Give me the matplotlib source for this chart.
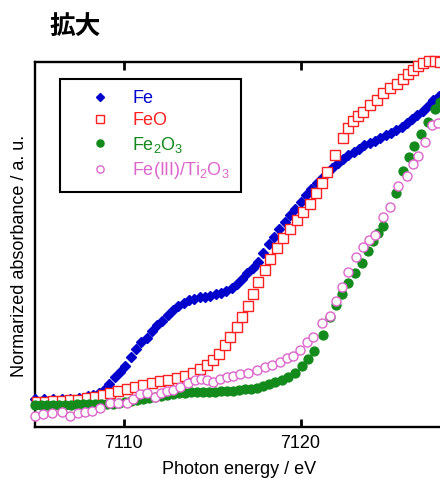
import matplotlib
matplotlib.use("Agg")
import matplotlib.pyplot as plt

plt.rcParams['font.family'] = ['Liberation Sans', 'DejaVu Sans']
plt.rcParams['mathtext.default'] = 'regular'

# Fe foil
fe_e = [7105.0, 7105.5, 7106.0, 7106.5, 7107.0, 7107.5, 7108.0, 7108.3, 7108.6, 7108.9,
        7109.2, 7109.5, 7109.8, 7110.1, 7110.4, 7110.7, 7111.0, 7111.3, 7111.6, 7111.9,
        7112.2, 7112.5, 7112.8, 7113.1, 7113.4, 7113.7, 7114.0, 7114.3, 7114.6, 7114.9,
        7115.2, 7115.5, 7115.8, 7116.1, 7116.4, 7116.7, 7117.0, 7117.3, 7117.6, 7117.9,
        7118.2, 7118.5, 7118.8, 7119.1, 7119.4, 7119.7, 7120.0, 7120.3, 7120.6, 7120.9,
        7121.2, 7121.5, 7121.8, 7122.1, 7122.4, 7122.7, 7123.0, 7123.3, 7123.6, 7123.9,
        7124.2, 7124.5, 7124.8, 7125.1, 7125.4, 7125.7, 7126.0, 7126.3, 7126.6, 7126.9,
        7127.2, 7127.5, 7127.8]
fe_v = [0.093, 0.093, 0.093, 0.093, 0.095, 0.098, 0.103, 0.107, 0.113, 0.125,
        0.143, 0.167, 0.183, 0.205, 0.232, 0.260, 0.283, 0.298, 0.320, 0.340,
        0.355, 0.373, 0.390, 0.403, 0.413, 0.422, 0.427, 0.433, 0.433, 0.437,
        0.442, 0.447, 0.453, 0.463, 0.477, 0.493, 0.513, 0.530, 0.550, 0.580,
        0.610, 0.633, 0.660, 0.683, 0.707, 0.727, 0.750, 0.773, 0.793, 0.812,
        0.830, 0.847, 0.865, 0.880, 0.895, 0.908, 0.918, 0.928, 0.940, 0.948,
        0.953, 0.963, 0.972, 0.980, 0.990, 1.000, 1.013, 1.027, 1.040, 1.053,
        1.070, 1.090, 1.103]

# FeO
feo_e = [7105.11, 7105.56, 7106.02, 7106.53, 7106.98, 7107.43, 7107.94, 7108.39, 7108.84, 7109.24,
         7109.69, 7110.20, 7110.65, 7111.10, 7111.61, 7112.06, 7112.51, 7113.02, 7113.47, 7113.93,
         7114.32, 7114.72, 7115.06, 7115.40, 7115.73, 7116.02, 7116.41, 7116.69, 7117.03, 7117.32,
         7117.60, 7117.99, 7118.28, 7118.67, 7119.01, 7119.41, 7119.80, 7120.14, 7120.54, 7120.88,
         7121.21, 7121.50, 7121.95, 7122.40, 7122.68, 7122.97, 7123.25, 7123.53, 7123.93, 7124.32,
         7124.66, 7125.06, 7125.45, 7125.79, 7126.07, 7126.36, 7126.64, 7126.92, 7127.26, 7127.60,
         7127.88]
feo_v = [0.083, 0.083, 0.087, 0.087, 0.090, 0.090, 0.097, 0.100, 0.107, 0.113,
         0.120, 0.127, 0.133, 0.140, 0.147, 0.153, 0.157, 0.163, 0.170, 0.180,
         0.193, 0.207, 0.223, 0.243, 0.273, 0.300, 0.333, 0.367, 0.403, 0.443,
         0.483, 0.523, 0.560, 0.597, 0.630, 0.660, 0.690, 0.717, 0.743, 0.780,
         0.813, 0.850, 0.907, 0.963, 0.997, 1.020, 1.037, 1.050, 1.073, 1.090,
         1.113, 1.130, 1.143, 1.160, 1.177, 1.190, 1.203, 1.213, 1.220, 1.220,
         1.217]

# Fe2O3
fe2o3_e = [7105.00, 7105.34, 7105.68, 7106.02, 7106.36, 7106.69, 7107.03, 7107.37, 7107.71, 7108.05,
           7108.39, 7108.73, 7109.07, 7109.41, 7109.75, 7110.08, 7110.42, 7110.76, 7111.10, 7111.44,
           7111.78, 7112.12, 7112.46, 7112.80, 7113.14, 7113.47, 7113.81, 7114.15, 7114.49, 7114.83,
           7115.17, 7115.51, 7115.85, 7116.19, 7116.53, 7116.86, 7117.20, 7117.54, 7117.88, 7118.22,
           7118.56, 7118.95, 7119.29, 7119.69, 7120.08, 7120.42, 7120.76, 7121.27, 7121.67, 7122.01,
           7122.34, 7122.68, 7123.08, 7123.47, 7123.81, 7124.10, 7124.38, 7124.66, 7125.40, 7125.79,
           7126.13, 7126.41, 7126.81, 7127.20, 7127.60, 7127.88]
fe2o3_v = [0.073, 0.073, 0.073, 0.073, 0.073, 0.073, 0.073, 0.077, 0.077, 0.077,
           0.077, 0.077, 0.077, 0.077, 0.080, 0.083, 0.087, 0.090, 0.093, 0.097,
           0.100, 0.103, 0.107, 0.110, 0.113, 0.113, 0.117, 0.117, 0.117, 0.117,
           0.117, 0.120, 0.120, 0.120, 0.123, 0.127, 0.127, 0.130, 0.137, 0.143,
           0.150, 0.157, 0.167, 0.180, 0.203, 0.227, 0.253, 0.307, 0.367, 0.407,
           0.443, 0.480, 0.513, 0.547, 0.587, 0.620, 0.647, 0.670, 0.780, 0.853,
           0.900, 0.937, 0.977, 1.017, 1.060, 1.083]

# Fe(III)/Ti2O3
ti_e = [7105.00, 7105.45, 7105.96, 7106.53, 7106.98, 7107.43, 7107.82, 7108.22, 7108.67, 7109.24,
        7109.69, 7110.20, 7110.54, 7110.93, 7111.33, 7111.78, 7112.12, 7112.46, 7112.80, 7113.19,
        7113.64, 7114.04, 7114.38, 7114.72, 7115.06, 7115.45, 7115.85, 7116.19, 7116.58, 7117.03,
        7117.54, 7117.99, 7118.39, 7118.84, 7119.24, 7119.58, 7119.97, 7120.37, 7120.71, 7121.21,
        7121.67, 7122.01, 7122.34, 7122.68, 7123.14, 7123.53, 7123.87, 7124.21, 7124.66, 7125.06,
        7125.51, 7126.02, 7126.36, 7126.64, 7127.03, 7127.43, 7127.77]
ti_v = [0.037, 0.043, 0.047, 0.050, 0.037, 0.047, 0.050, 0.053, 0.063, 0.080,
        0.080, 0.080, 0.093, 0.110, 0.113, 0.100, 0.113, 0.120, 0.123, 0.133,
        0.147, 0.157, 0.160, 0.157, 0.150, 0.160, 0.167, 0.170, 0.177, 0.180,
        0.190, 0.200, 0.207, 0.217, 0.230, 0.237, 0.257, 0.283, 0.300, 0.347,
        0.370, 0.420, 0.467, 0.517, 0.567, 0.600, 0.623, 0.640, 0.700, 0.733,
        0.803, 0.837, 0.877, 0.903, 0.950, 1.007, 1.013]

labels = ['Fe', 'FeO', 'Fe$_2$O$_3$', 'Fe(III)/Ti$_2$O$_3$']
colors = ['#0000CD', '#FF2020', '#138A1C', '#DD66CC']
xticks = [7110, 7120]

fig = plt.figure(figsize=(4.4, 4.79), dpi=100)
ax = fig.add_axes([35 / 440, 52 / 479, 409 / 440, 365 / 479])

ax.plot(fe_e, fe_v, ls='none', marker='D', ms=5.0, color=colors[0], mec=colors[0],
        label=labels[0], zorder=3, clip_on=False)
ax.plot(feo_e, feo_v, ls='none', marker='s', ms=7.5, mfc='white', mec=colors[1], mew=1.0,
        label=labels[1], zorder=4, clip_on=False)
ax.plot(fe2o3_e, fe2o3_v, ls='none', marker='o', ms=6.4, color=colors[2], mec=colors[2],
        label=labels[2], zorder=5, clip_on=False)
ax.plot(ti_e, ti_v, ls='none', marker='o', ms=6.5, mfc='white', mec=colors[3], mew=1.0,
        label=labels[3], zorder=6, clip_on=False)

ax.set_xlim(7105, 7128.1)
ax.set_ylim(0, 1.2167)
ax.set_xticks(xticks)
ax.set_yticks([])
ax.tick_params(axis='x', direction='in', top=True, length=6, width=2, labelsize=13, pad=6)
for s in ax.spines.values():
    s.set_linewidth(1.7)
ax.spines['right'].set_visible(False)

ax.set_xlabel('Photon energy / eV', fontsize=13, labelpad=6)
ax.set_ylabel('Normarized absorbance / a. u.', fontsize=13)
ax.yaxis.set_label_coords(-0.018, 0.468)

fig.text(49 / 440, 1 - 27 / 479, '拡大', fontsize=18.5, fontweight='bold',
         family=['Noto Sans CJK JP', 'DejaVu Sans'], ha='left', va='center')

leg = ax.legend(loc='upper left', bbox_to_anchor=(60 / 440, 1 - 79 / 479),
                bbox_transform=fig.transFigure, borderaxespad=0, fancybox=False,
                edgecolor='black', framealpha=1, fontsize=13, handlelength=3.2,
                handletextpad=0.2, borderpad=0.6, labelspacing=0.3,
                markerscale=0.8, numpoints=1)
leg.get_frame().set_linewidth(1.5)
for t, c in zip(leg.get_texts(), colors):
    t.set_color(c)

fig.savefig('out.png', dpi=100)
